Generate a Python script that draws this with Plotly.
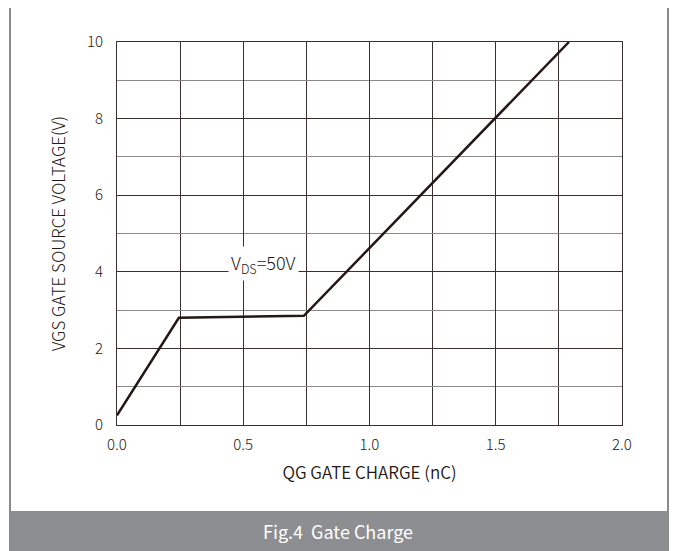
import plotly.graph_objects as go

qg = [0.0, 0.245, 0.74, 1.79]
vgs = [0.25, 2.8, 2.85, 10.0]
x_ticks = [0.0, 0.5, 1.0, 1.5, 2.0]
x_tick_text = ["0.0", "0.5", "1.0", "1.5", "2.0"]
y_ticks = [0, 2, 4, 6, 8, 10]

FONT = "Noto Sans CJK SC"
O = 8  # default page body margin
L, R, T, B = 117 - O, 622 - O, 42 - O, 425 - O
W, H = 677 - O, 551 - O

def px(x):
    return (x - O - L) / (R - L)

def py(y):
    return (B - (y - O)) / (B - T)

fig = go.Figure()
fig.add_trace(go.Scatter(x=qg, y=vgs, mode="lines",
                         line=dict(color="#231815", width=2.5),
                         showlegend=False, hoverinfo="skip"))

fig.update_layout(
    width=W, height=H,
    margin=dict(l=L, r=W - R, t=T, b=H - B),
    paper_bgcolor="white", plot_bgcolor="white",
    font=dict(family=FONT, color="#231815", weight=300),
    xaxis=dict(range=[0, 2], tickvals=x_ticks, ticktext=x_tick_text,
               showgrid=True, gridcolor="#3a3030", gridwidth=1,
               minor=dict(dtick=0.25, showgrid=True, gridcolor="#3a3030", gridwidth=1),
               showline=True, linecolor="#3a3030", linewidth=1, mirror=True,
               ticks="", zeroline=False, ticklabelstandoff=6,
               tickfont=dict(size=15, color="#231815", family=FONT, weight=300),
               title=dict(text="QG GATE CHARGE (nC)", font=dict(size=17, family=FONT, color="#231815", weight=350), standoff=14)),
    yaxis=dict(range=[0, 10], tickvals=y_ticks,
               showgrid=True, gridcolor="#3a3030", gridwidth=1,
               minor=dict(dtick=1, showgrid=True, gridcolor="#8a8a8a", gridwidth=1),
               showline=True, linecolor="#3a3030", linewidth=1, mirror=True,
               ticks="", zeroline=False, ticklabelstandoff=10,
               tickfont=dict(size=15, color="#231815", family=FONT, weight=300),
               title=dict(text="VGS GATE SOURCE VOLTAGE(V)", font=dict(size=17, family=FONT, color="#231815", weight=300), standoff=16)),
)

# annotation
fig.add_annotation(x=0.58, y=4.22, xref="x", yref="y",
                   text="V<sub>DS</sub>=50V", showarrow=False,
                   font=dict(size=18, family=FONT, color="#231815", weight=300),
                   bgcolor="white", borderpad=2)

# outer frame
fig.add_shape(type="rect", xref="paper", yref="paper",
              x0=px(10), x1=px(668), y0=py(552), y1=py(7),
              line=dict(color="#8a8a8a", width=2), fillcolor="rgba(0,0,0,0)", layer="above")
# banner
fig.add_shape(type="rect", xref="paper", yref="paper",
              x0=px(10), x1=px(668), y0=py(552), y1=py(511),
              line=dict(width=0), fillcolor="#8c8e91", layer="above")
fig.add_annotation(xref="paper", yref="paper", x=px(338), y=py(531),
                   text="Fig.4  Gate Charge", showarrow=False,
                   font=dict(size=18, family=FONT, color="white", weight=400),
                   xanchor="center", yanchor="middle")

fig.write_html("out.html")
